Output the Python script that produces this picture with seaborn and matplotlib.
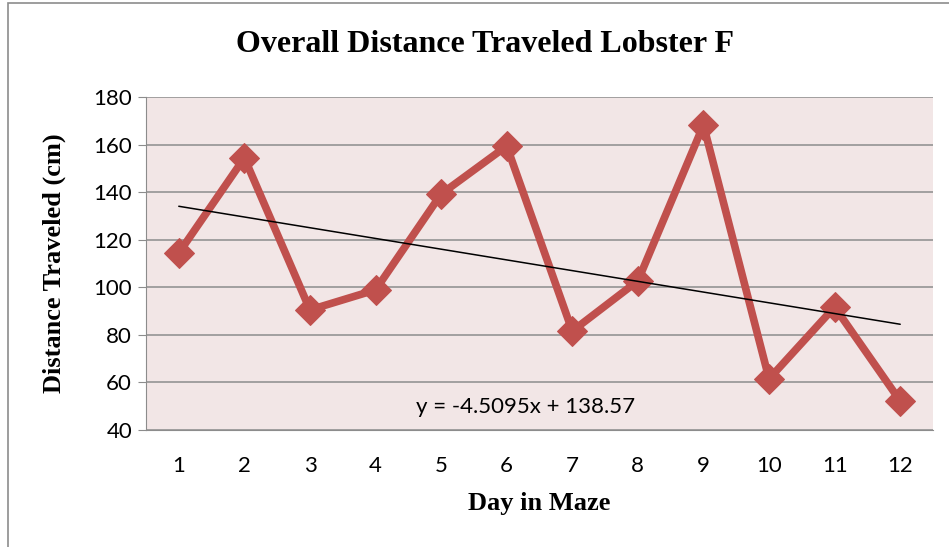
import matplotlib
matplotlib.use("Agg")
import matplotlib.pyplot as plt
import seaborn as sns
import pandas as pd
import numpy as np
from matplotlib.patches import Rectangle

days = [1, 2, 3, 4, 5, 6, 7, 8, 9, 10, 11, 12]
distance = [114.4, 154.4, 90.5, 98.9, 139.2, 159.4, 81.6, 102.7, 168.2, 61.5, 91.7, 52.2]
slope = -4.5095
intercept = 138.57
y_ticks = [40, 60, 80, 100, 120, 140, 160, 180]

df = pd.DataFrame({"day": days, "distance": distance})
df["trend"] = intercept + slope * df["day"]

sns.set_style("white")
plt.rcParams["font.family"] = ["Lato", "DejaVu Sans"]
plt.rcParams["text.color"] = "black"
plt.rcParams["xtick.color"] = "black"
plt.rcParams["ytick.color"] = "black"
plt.rcParams["axes.labelcolor"] = "black"

fig = plt.figure(figsize=(9.49, 5.47), dpi=100)
ax = fig.add_axes([146/949, 1-430/547, (933-146)/949, (430-97)/547])
ax.set_facecolor("#F2E6E6")

fig.patches.append(Rectangle((8/949, -0.1), 1.1, 1 - 3/547 + 0.1, transform=fig.transFigure,
                             fill=False, edgecolor="#8C8C8C", linewidth=1.2, zorder=0))

sns.lineplot(data=df, x="day", y="distance", ax=ax, color="#C0504D", linewidth=5.5,
             marker="D", markersize=15, markeredgecolor="#C0504D", zorder=3)
sns.lineplot(data=df, x="day", y="trend", ax=ax, color="black", linewidth=1.1, zorder=4)

ax.set_xlim(0.5, 12.5)
ax.set_ylim(40, 180)
ax.set_yticks(y_ticks)
ax.set_xticks(days)
ax.yaxis.grid(True, color="#8C8C8C", linewidth=1.1)
ax.set_axisbelow(True)
for s in ["top", "right"]:
    ax.spines[s].set_visible(False)
ax.spines["left"].set_color("#8C8C8C")
ax.spines["bottom"].set_color("#8C8C8C")
ax.tick_params(axis="y", length=6, color="#8C8C8C", labelcolor="black", labelsize=16, pad=4,
               direction="out", left=True)
ax.tick_params(axis="x", length=0, labelcolor="black", labelsize=16, pad=19)

ax.set_xlabel("Day in Maze", family="Liberation Serif", fontweight="bold", fontsize=19, labelpad=11)
ax.set_ylabel("Distance Traveled (cm)", family="Liberation Serif", fontweight="bold", fontsize=19, labelpad=20)
fig.text(485/949, 1-45/547, "Overall Distance Traveled Lobster F", family="Liberation Serif",
         fontweight="bold", fontsize=23, ha="center", va="center")
ax.text(6.29, 49.7, "y = -4.5095x + 138.57", fontsize=16, ha="center", va="center")

fig.savefig("out.png", dpi=100)
